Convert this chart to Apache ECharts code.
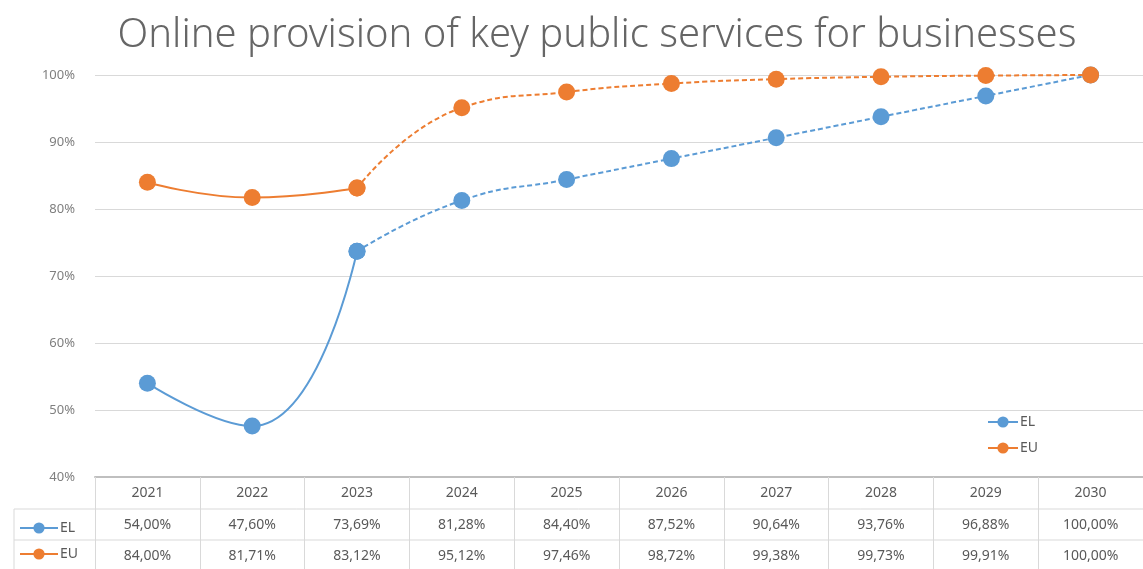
<!DOCTYPE html>
<html>
<head>
<meta charset="utf-8">
<script src="https://cdn.jsdelivr.net/npm/echarts@6/dist/echarts.min.js"></script>
<style>html,body{margin:0;padding:0;background:#fff}#c{width:1143px;height:569px}</style>
</head>
<body>
<div id="c"></div>
<script>
const years = ['2021','2022','2023','2024','2025','2026','2027','2028','2029','2030'];
const elValues = [54.00, 47.60, 73.69, 81.28, 84.40, 87.52, 90.64, 93.76, 96.88, 100.00];
const euValues = [84.00, 81.71, 83.12, 95.12, 97.46, 98.72, 99.38, 99.73, 99.91, 100.00];
const lastActualIndex = 2;
const yTicks = {min: 40, max: 100, interval: 10};

const BLUE = '#5B9BD5', ORANGE = '#ED7D31', TXT = '#595959', GRID = '#d9d9d9';
function fmt(v){ return v.toFixed(2).replace('.', ',') + '%'; }
function actual(arr){ return arr.map((v,i)=> i<=lastActualIndex ? v : null); }
function forecast(arr){ return arr.map((v,i)=> i>=lastActualIndex ? v : null); }

function lineSeries(name, data, color, dashed){
  return {
    name, type:'line', data, smooth:0.5, symbol:'circle', symbolSize:17,
    connectNulls:false,
    itemStyle:{color}, lineStyle:{color, width:2, type: dashed ? [5,3] : 'solid'},
    z: name==='EU' ? 3 : 2
  };
}

const chart = echarts.init(document.getElementById('c'), null, {renderer:'canvas'});
chart.setOption({
  animation:false,
  backgroundColor:'#fff',
  title:{text:'Online provision of key public services for businesses', left:592, textAlign:'center', top:11,
    textStyle:{fontFamily:'Noto Sans', fontSize:40, fontWeight:300, color:'#666666'}},
  grid:{left:95, top:75, width:1055, height:402},
  xAxis:[
    {type:'category', data:years, position:'bottom', boundaryGap:true,
     axisLine:{lineStyle:{color:'#bfbfbf', width:2}},
     axisTick:{show:true, length:100, lineStyle:{color:GRID}},
     axisLabel:{margin:9, fontSize:14, color:TXT, fontFamily:'Noto Sans'}},
    {type:'category', data:years, position:'bottom', offset:32,
     axisLine:{show:false}, axisTick:{show:false},
     axisLabel:{margin:9, fontSize:14, color:TXT, fontFamily:'Noto Sans', formatter:(v,i)=>fmt(elValues[i])}},
    {type:'category', data:years, position:'bottom', offset:63,
     axisLine:{show:false}, axisTick:{show:false},
     axisLabel:{margin:9, fontSize:14, color:TXT, fontFamily:'Noto Sans', formatter:(v,i)=>fmt(euValues[i])}}
  ],
  yAxis:{type:'value', min:yTicks.min, max:yTicks.max, interval:yTicks.interval,
    axisLine:{show:false}, axisTick:{show:false},
    axisLabel:{formatter:'{value}%', margin:20, fontSize:13, color:'#7f7f7f', fontFamily:'Noto Sans'},
    splitLine:{lineStyle:{color:GRID, width:1}}},
  legend:[
    {data:['EL','EU'], orient:'vertical', left:982, top:410, itemGap:12, itemWidth:30, itemHeight:14,
     textStyle:{color:TXT, fontSize:14, fontFamily:'Noto Sans', padding:[0,0,0,-3]}},
    {data:['EL','EU'], orient:'vertical', left:14, top:516, itemGap:12, itemWidth:38, itemHeight:14,
     selectedMode:false,
     textStyle:{color:TXT, fontSize:14, fontFamily:'Noto Sans', padding:[0,0,0,-3]}}
  ],
  graphic:[
    {type:'line', shape:{x1:14, y1:509, x2:1143, y2:509}, style:{stroke:GRID, lineWidth:1}, silent:true},
    {type:'line', shape:{x1:14, y1:540, x2:1143, y2:540}, style:{stroke:GRID, lineWidth:1}, silent:true},
    {type:'line', shape:{x1:14, y1:509, x2:14, y2:569}, style:{stroke:GRID, lineWidth:1}, silent:true}
  ],
  series:[
    lineSeries('EL', actual(elValues), BLUE, false),
    lineSeries('EL', forecast(elValues), BLUE, true),
    lineSeries('EU', actual(euValues), ORANGE, false),
    lineSeries('EU', forecast(euValues), ORANGE, true)
  ]
});
</script>
</body>
</html>
